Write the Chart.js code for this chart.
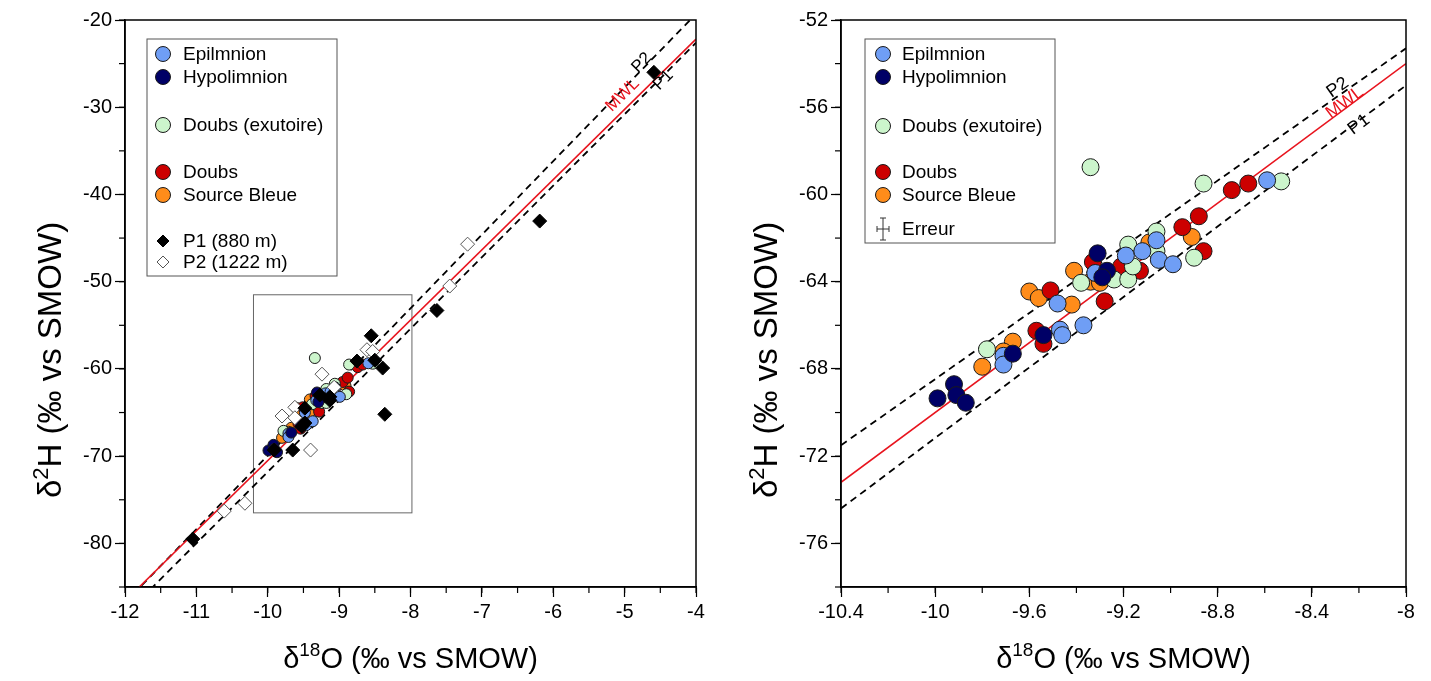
<!DOCTYPE html>
<html lang="en">
<head>
<meta charset="UTF-8">
<title>Isotopes - Lac</title>
<script src="https://cdn.jsdelivr.net/npm/chart.js"></script>
<style>
  body { margin: 0; background: #fff; }
  .wrap { position: absolute; top: 0; height: 681px; }
  #leftWrap { left: 0; width: 715px; }
  #rightWrap { left: 715px; width: 716px; }
</style>
</head>
<body>
<div class="wrap" id="leftWrap"><canvas id="leftChart"></canvas></div>
<div class="wrap" id="rightWrap"><canvas id="rightChart"></canvas></div>
<script>
// values: [d18O, d2H]
const epilimnion = [[-9.71,-67.4],[-9.71,-67.8],[-9.47,-66.2],[-9.46,-66.45],[-9.37,-66.0],[-9.48,-65.0],
  [-9.32,-63.6],[-9.19,-62.8],[-9.12,-62.6],[-9.06,-62.1],[-9.05,-63.0],[-8.99,-63.2],[-8.59,-59.35]];
const hypolimnion = [[-9.99,-69.35],[-9.92,-68.7],[-9.91,-69.2],[-9.87,-69.55],[-9.67,-67.3],[-9.54,-66.45],
  [-9.31,-62.7],[-9.27,-63.5],[-9.29,-63.8]];
const doubsExutoire = [[-9.34,-58.75],[-9.78,-67.1],[-9.38,-64.05],[-9.24,-63.9],[-9.18,-63.9],[-9.16,-63.3],
  [-9.18,-62.3],[-9.06,-61.7],[-9.06,-62.6],[-8.90,-62.9],[-8.86,-59.5],[-8.53,-59.4]];
const doubs = [[-9.51,-64.4],[-9.57,-66.25],[-9.54,-66.85],[-9.28,-64.9],[-9.33,-63.1],[-9.21,-63.3],
  [-9.13,-63.5],[-8.95,-61.5],[-8.88,-61.0],[-8.86,-62.6],[-8.74,-59.8],[-8.67,-59.5]];
const sourceBleue = [[-9.60,-64.45],[-9.56,-64.75],[-9.42,-65.05],[-9.67,-66.75],[-9.80,-67.9],[-9.71,-67.2],
  [-9.41,-63.5],[-9.34,-64.0],[-9.30,-64.05],[-9.09,-62.2],[-8.91,-61.95]];
const p1 = [[-4.59,-26.0],[-6.19,-43.05],[-7.63,-53.3],[-8.55,-56.2],[-8.75,-59.1],[-8.50,-59.0],[-8.39,-59.9],
  [-8.36,-65.2],[-9.13,-63.2],[-9.27,-63.0],[-9.13,-63.6],[-9.48,-64.5],[-9.48,-66.2],[-9.52,-66.6],
  [-9.65,-69.3],[-9.91,-69.3],[-11.05,-79.5]];
const p2 = [[-7.20,-45.7],[-7.45,-50.5],[-8.61,-57.8],[-8.53,-58.0],[-9.24,-60.6],[-9.07,-62.1],[-9.62,-64.4],
  [-9.80,-65.4],[-9.62,-65.6],[-9.40,-69.3],[-10.61,-76.3],[-10.32,-75.4]];

// reference lines (end points)
const mwlLeft = [[-11.8,-85],[-4,-22.2]];
const p2LineLeft = [[-12,-86.8],[-4,-19.3]];
const p1LineLeft = [[-12,-88.2],[-4,-22.6]];
const mwlRight = [[-10.4,-73.2],[-8,-54]];
const p2LineRight = [[-10.4,-71.5],[-8,-53.3]];
const p1LineRight = [[-10.4,-74.4],[-8,-55]];

// zoom frame drawn on the left panel
const zoomBox = [[-10.2,-51.5],[-7.98,-76.5]];

// axes
const leftX = { min: -12, max: -4, step: 1, minor: 0.5 };
const leftY = { min: -85, max: -20, step: 10, minor: 5 };
const rightX = { min: -10.4, max: -8, step: 0.4, minor: 0.2 };
const rightY = { min: -78, max: -52, step: 4, minor: 2 };

const FONT = 'Arial, "Liberation Sans", sans-serif';
Chart.defaults.font.family = FONT;
Chart.defaults.color = '#000';

const colors = {
  epi: '#6f9ef5', hypo: '#000066', exu: '#ccf5cc', doubs: '#cc0000', source: '#ff8c1a'
};

function pts(arr) { return arr.map(p => ({ x: p[0], y: p[1] })); }

function circleSet(label, arr, color, r, order) {
  return { label, data: pts(arr), backgroundColor: color, borderColor: '#1a1a1a', borderWidth: 1,
    pointRadius: r, pointHoverRadius: r, order };
}
function lineSet(arr, color, dashed) {
  return { data: pts(arr), showLine: true, borderColor: color, borderWidth: dashed ? 1.8 : 1.6,
    borderDash: dashed ? [7, 5] : [], pointRadius: 0, fill: false, order: 20 };
}

function line(ctx, x1, y1, x2, y2) { ctx.beginPath(); ctx.moveTo(x1, y1); ctx.lineTo(x2, y2); ctx.stroke(); }

// superscript title: [base, sup, rest]
function drawSupTitle(ctx, parts, cx, cy, size) {
  const big = size + 'px ' + FONT, small = Math.round(size * 0.66) + 'px ' + FONT;
  ctx.font = big; const w1 = ctx.measureText(parts[0]).width;
  ctx.font = small; const w2 = ctx.measureText(parts[1]).width;
  ctx.font = big; const w3 = ctx.measureText(parts[2]).width;
  let x = cx - (w1 + w2 + w3) / 2;
  ctx.textBaseline = 'middle'; ctx.textAlign = 'left'; ctx.fillStyle = '#000';
  ctx.font = big; ctx.fillText(parts[0], x, cy); x += w1;
  ctx.font = small; ctx.fillText(parts[1], x, cy - size * 0.32); x += w2;
  ctx.font = big; ctx.fillText(parts[2], x, cy);
}

const deco = {
  id: 'deco',
  beforeDatasetsDraw(chart, args, o) {
    if (!o.box) return;
    const { ctx, scales: { x, y } } = chart;
    const x1 = x.getPixelForValue(o.box[0][0]), y1 = y.getPixelForValue(o.box[0][1]);
    const x2 = x.getPixelForValue(o.box[1][0]), y2 = y.getPixelForValue(o.box[1][1]);
    ctx.save(); ctx.strokeStyle = '#666'; ctx.lineWidth = 1;
    ctx.strokeRect(x1, y1, x2 - x1, y2 - y1); ctx.restore();
  },
  afterDatasetsDraw(chart, args, o) {
    const { ctx, scales: { x, y } } = chart;
    ctx.save();
    (o.lineLabels || []).forEach(l => {
      const a = x.getPixelForValue(l.line[0][0]), b = y.getPixelForValue(l.line[0][1]);
      const c = x.getPixelForValue(l.line[1][0]), d = y.getPixelForValue(l.line[1][1]);
      const ang = Math.atan2(d - b, c - a);
      ctx.save();
      ctx.translate(x.getPixelForValue(l.at[0]), y.getPixelForValue(l.at[1]));
      ctx.rotate(ang);
      ctx.font = o.labelSize + 'px ' + FONT; ctx.fillStyle = l.color;
      ctx.textAlign = 'center'; ctx.textBaseline = 'middle';
      ctx.fillText(l.text, 0, 0);
      ctx.restore();
    });
    ctx.restore();
  },
  afterDraw(chart, args, o) {
    const { ctx, chartArea: ar, scales: { x, y } } = chart;
    ctx.save();
    // frame
    ctx.strokeStyle = '#000'; ctx.lineWidth = 1.5;
    ctx.strokeRect(ar.left, ar.top, ar.right - ar.left, ar.bottom - ar.top);
    // minor ticks
    ctx.lineWidth = 1.2;
    const nx = Math.round((x.max - x.min) / o.minorX);
    for (let i = 0; i <= nx; i++) { const px = x.getPixelForValue(x.min + i * o.minorX); line(ctx, px, ar.bottom, px, ar.bottom + 6); }
    const ny = Math.round((y.max - y.min) / o.minorY);
    for (let i = 0; i <= ny; i++) { const py = y.getPixelForValue(y.min + i * o.minorY); line(ctx, ar.left - 6, py, ar.left, py); }
    // axis titles
    drawSupTitle(ctx, ['\u03b4', '18', 'O (\u2030 vs SMOW)'], (ar.left + ar.right) / 2, 660, 29);
    ctx.save();
    ctx.translate(o.yTitleX, o.yTitleY);
    ctx.rotate(-Math.PI / 2);
    drawSupTitle(ctx, ['\u03b4', '2', 'H (\u2030 vs SMOW)'], 0, 0, 33);
    ctx.restore();
    // legend
    const lg = o.legend;
    ctx.strokeStyle = '#555'; ctx.lineWidth = 1;
    ctx.fillStyle = '#fff';
    ctx.fillRect(lg.x, lg.y, lg.w, lg.h);
    ctx.strokeRect(lg.x, lg.y, lg.w, lg.h);
    lg.items.forEach(it => {
      const cx = lg.x + lg.sym, cy = it.y;
      ctx.lineWidth = 1;
      if (it.kind === 'circle') {
        ctx.beginPath(); ctx.arc(cx, cy, 7.5, 0, Math.PI * 2);
        ctx.fillStyle = it.color; ctx.fill(); ctx.strokeStyle = '#1a1a1a'; ctx.stroke();
      } else if (it.kind === 'diamond') {
        ctx.beginPath(); ctx.moveTo(cx, cy - 6); ctx.lineTo(cx + 6, cy); ctx.lineTo(cx, cy + 6); ctx.lineTo(cx - 6, cy); ctx.closePath();
        ctx.fillStyle = it.color; ctx.fill(); ctx.strokeStyle = it.stroke; ctx.stroke();
      } else if (it.kind === 'error') {
        ctx.strokeStyle = '#333';
        line(ctx, cx, cy - 11, cx, cy + 11);
        line(ctx, cx - 3, cy - 11, cx + 3, cy - 11);
        line(ctx, cx - 3, cy + 11, cx + 3, cy + 11);
        line(ctx, cx - 6, cy, cx + 6, cy);
        line(ctx, cx - 6, cy - 3, cx - 6, cy + 3);
        line(ctx, cx + 6, cy - 3, cx + 6, cy + 3);
      }
      ctx.fillStyle = '#000'; ctx.font = '19px ' + FONT;
      ctx.textAlign = 'left'; ctx.textBaseline = 'middle';
      ctx.fillText(it.text, lg.x + lg.text, cy + 1);
    });
    ctx.restore();
  }
};

function axis(r, horizontal, size) {
  return {
    type: 'linear', min: r.min, max: r.max,
    position: horizontal ? 'bottom' : 'left',
    ticks: { stepSize: r.step, includeBounds: false, autoSkip: false, maxRotation: 0,
      font: { size: 20 }, color: '#000', padding: 3,
      callback: v => String(Number(v.toFixed(1))) },
    grid: { drawOnChartArea: false, drawTicks: true, tickLength: 10, color: '#000', tickWidth: 1.2 },
    border: { color: '#000', width: 1.5 },
    afterFit: s => { if (horizontal) s.height = size; else s.width = size; }
  };
}

function makeChart(id, cfg) {
  return new Chart(document.getElementById(id), {
    type: 'scatter',
    data: { datasets: cfg.datasets },
    options: {
      responsive: true, maintainAspectRatio: false, animation: false,
      layout: { padding: { top: 20, right: cfg.padRight, left: 0, bottom: 0 } },
      scales: { x: axis(cfg.x, true, 94), y: axis(cfg.y, false, cfg.yWidth) },
      plugins: { legend: { display: false }, tooltip: { enabled: false }, deco: cfg.deco }
    },
    plugins: [deco]
  });
}

makeChart('leftChart', {
  x: leftX, y: leftY, yWidth: 125, padRight: 19,
  datasets: [
    { label: 'P1 (880 m)', data: pts(p1), pointStyle: 'rectRot', backgroundColor: '#000', borderColor: '#000',
      borderWidth: 1, pointRadius: 7, order: 1 },
    { label: 'P2 (1222 m)', data: pts(p2), pointStyle: 'rectRot', backgroundColor: '#fff', borderColor: '#555',
      borderWidth: 1, pointRadius: 7, order: 2 },
    circleSet('Epilmnion', epilimnion, colors.epi, 5.5, 5),
    circleSet('Hypolimnion', hypolimnion, colors.hypo, 5.5, 4),
    circleSet('Doubs (exutoire)', doubsExutoire, colors.exu, 5.5, 6),
    circleSet('Doubs', doubs, colors.doubs, 5.5, 7),
    circleSet('Source Bleue', sourceBleue, colors.source, 5.5, 8),
    lineSet(mwlLeft, '#e8141e', false),
    lineSet(p2LineLeft, '#000', true),
    lineSet(p1LineLeft, '#000', true)
  ],
  deco: {
    box: zoomBox, minorX: leftX.minor, minorY: leftY.minor, yTitleX: 52, yTitleY: 360, labelSize: 17,
    lineLabels: [
      { text: 'MWL', at: [-5.03, -28.6], line: mwlLeft, color: '#e8141e' },
      { text: 'P2', at: [-4.76, -24.9], line: p2LineLeft, color: '#000' },
      { text: 'P1', at: [-4.46, -26.9], line: p1LineLeft, color: '#000' }
    ],
    legend: { x: 147, y: 39, w: 190, h: 237, sym: 16, text: 36, items: [
      { kind: 'circle', color: colors.epi, y: 54, text: 'Epilmnion' },
      { kind: 'circle', color: colors.hypo, y: 77, text: 'Hypolimnion' },
      { kind: 'circle', color: colors.exu, y: 125, text: 'Doubs (exutoire)' },
      { kind: 'circle', color: colors.doubs, y: 172, text: 'Doubs' },
      { kind: 'circle', color: colors.source, y: 195, text: 'Source Bleue' },
      { kind: 'diamond', color: '#000', stroke: '#000', y: 241, text: 'P1 (880 m)' },
      { kind: 'diamond', color: '#fff', stroke: '#555', y: 262, text: 'P2 (1222 m)' }
    ] }
  }
});

makeChart('rightChart', {
  x: rightX, y: rightY, yWidth: 126, padRight: 25,
  datasets: [
    circleSet('Epilmnion', epilimnion, colors.epi, 8.5, 5),
    circleSet('Hypolimnion', hypolimnion, colors.hypo, 8.5, 4),
    circleSet('Doubs (exutoire)', doubsExutoire, colors.exu, 8.5, 6),
    circleSet('Doubs', doubs, colors.doubs, 8.5, 7),
    circleSet('Source Bleue', sourceBleue, colors.source, 8.5, 8),
    lineSet(mwlRight, '#e8141e', false),
    lineSet(p2LineRight, '#000', true),
    lineSet(p1LineRight, '#000', true)
  ],
  deco: {
    minorX: rightX.minor, minorY: rightY.minor, yTitleX: 53, yTitleY: 360, labelSize: 18,
    lineLabels: [
      { text: 'MWL', at: [-8.26, -55.8], line: mwlRight, color: '#e8141e' },
      { text: 'P2', at: [-8.29, -55.1], line: p2LineRight, color: '#000' },
      { text: 'P1', at: [-8.20, -56.8], line: p1LineRight, color: '#000' }
    ],
    legend: { x: 150, y: 39, w: 190, h: 204, sym: 18, text: 37, items: [
      { kind: 'circle', color: colors.epi, y: 54, text: 'Epilmnion' },
      { kind: 'circle', color: colors.hypo, y: 77, text: 'Hypolimnion' },
      { kind: 'circle', color: colors.exu, y: 126, text: 'Doubs (exutoire)' },
      { kind: 'circle', color: colors.doubs, y: 172, text: 'Doubs' },
      { kind: 'circle', color: colors.source, y: 195, text: 'Source Bleue' },
      { kind: 'error', y: 229, text: 'Erreur' }
    ] }
  }
});
</script>
</body>
</html>
